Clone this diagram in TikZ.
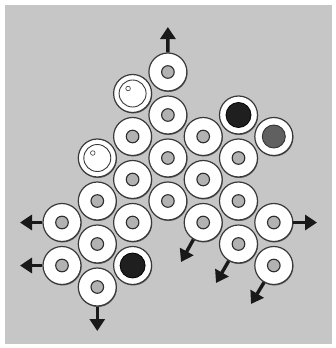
\documentclass[tikz,border=0pt]{standalone}
\usetikzlibrary{arrows.meta,shadows}
\begin{document}
\begin{tikzpicture}[x=1pt, y=-1pt, >={Triangle[width=15pt,length=12pt]}] % Styles
\tikzstyle{disc}=[circle, draw=gray!45!black, line width=1.2pt, fill=white, minimum size=38pt, inner sep=0pt,
  drop shadow={shadow xshift=0.6pt, shadow yshift=-1pt, fill=gray!60!black, opacity=0.8}]
\tikzstyle{hole}=[disc, path picture={\draw[gray!35!black, line width=1.1pt, fill=gray!60] (path picture bounding box.center) circle (6.3pt);}]
\tikzstyle{clearball}=[disc, path picture={\draw[gray!45!black, line width=0.9pt, fill=white] (path picture bounding box.center) circle (13.5pt);
  \draw[gray!45!black, line width=0.6pt] ([shift={(-4.5pt,5pt)}]path picture bounding box.center) circle (2.3pt);}]
\tikzstyle{blackball}=[disc, path picture={\draw[black, line width=0.8pt, fill=black!88] (path picture bounding box.center) circle (12.5pt);}]
\tikzstyle{greyball}=[disc, path picture={\draw[black!80, line width=0.9pt, fill=gray!75!black] (path picture bounding box.center) circle (11.5pt);}]
\tikzstyle{push}=[->, line width=3.4pt, black!90]
\useasboundingbox (0,0) rectangle (335,348);
\fill[gray!45] (5,5) rectangle (332,344); % Board
\foreach \i/\k in {0/7,0/9,1/6,1/8,1/10,2/3,2/5,2/7,3/0,3/2,3/4,3/6,4/3,4/5,4/7,5/4,5/6,5/8,6/7,6/9}
  \node[hole] (d\i-\k) at ({62+35.3*\i},{72+21.5*\k}) {};
\node[clearball] (d1-4) at ({62+35.3*1},{72+21.5*4}) {};
\node[clearball] (d2-1) at ({62+35.3*2},{72+21.5*1}) {};
\node[blackball] (d2-9) at ({62+35.3*2},{72+21.5*9}) {};
\node[blackball] (d5-2) at ({62+35.3*5},{72+21.5*2}) {};
\node[greyball] (d6-3) at ({62+35.3*6},{72+21.5*3}) {}; % Exits
\coordinate (up) at (167.9,27);
\coordinate (left1) at (20,222.5);
\coordinate (left2) at (20,265.5);
\coordinate (down) at (97.3,331);
\coordinate (right) at (317,222.5);
\coordinate (sw1) at (181,262);
\coordinate (sw2) at (216,283);
\coordinate (sw3) at (251,304);
\draw[push] (d3-0.north) -- (up);
\draw[push] (d0-7.west) -- (left1);
\draw[push] (d0-9.west) -- (left2);
\draw[push] (d1-10.south) -- (down);
\draw[push] (d6-7.east) -- (right);
\draw[push] (d4-7.240) -- (sw1);
\draw[push] (d5-8.240) -- (sw2);
\draw[push] (d6-9.240) -- (sw3);
\end{tikzpicture}
\end{document}
